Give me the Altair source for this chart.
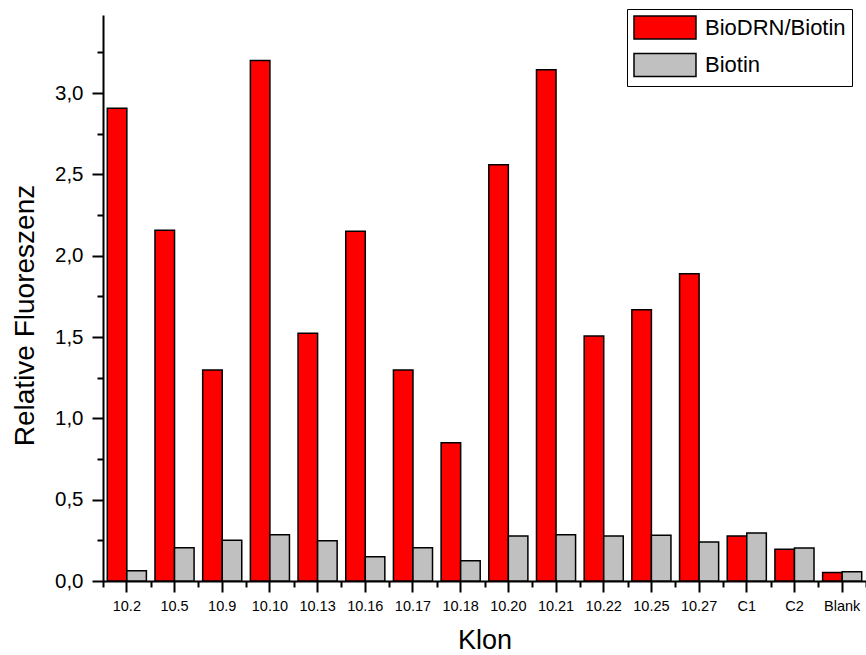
import altair as alt
import pandas as pd

# Clones on the x axis, in display order
klon = ["10.2", "10.5", "10.9", "10.10", "10.13", "10.16", "10.17", "10.18",
        "10.20", "10.21", "10.22", "10.25", "10.27", "C1", "C2", "Blank"]

# Relative fluorescence per series
biodrn_biotin = [2.907, 2.157, 1.297, 3.200, 1.524, 2.151, 1.297, 0.850,
                 2.559, 3.143, 1.506, 1.668, 1.889, 0.277, 0.195, 0.053]
biotin = [0.063, 0.205, 0.250, 0.285, 0.248, 0.149, 0.205, 0.125,
          0.277, 0.285, 0.277, 0.281, 0.240, 0.295, 0.203, 0.057]

series = ["BioDRN/Biotin", "Biotin"]
colors = ["#FF0000", "#C0C0C0"]

major_y = [0.0, 0.5, 1.0, 1.5, 2.0, 2.5, 3.0]
minor_y = [0.25, 0.75, 1.25, 1.75, 2.25, 2.75, 3.25]

rows = []
for k, a, b in zip(klon, biodrn_biotin, biotin):
    rows.append({"Klon": k, "Serie": series[0], "Wert": a})
    rows.append({"Klon": k, "Serie": series[1], "Wert": b})
df = pd.DataFrame(rows)

FONT = "Liberation Sans"

x_scale = alt.Scale(domain=klon, paddingInner=0, paddingOuter=0)
y_scale = alt.Scale(domain=[0, 3.48], nice=False, zero=True)

# Legend swatch: wide bar-shaped rectangle extending right of the symbol slot
swatch = "M-1,-1H4.39V1H-1Z"

# Bars with tick labels at the group centres and major y ticks
bars = alt.Chart(df).mark_bar(stroke="black", strokeWidth=1.5).encode(
    x=alt.X("Klon:N", sort=klon, scale=x_scale,
            axis=alt.Axis(orient="bottom", title="Klon", labelAngle=0,
                          tickSize=11, tickWidth=2, domainWidth=2,
                          domainColor="black", tickColor="black",
                          labelFont=FONT, labelFontSize=14.5, labelColor="black",
                          labelPadding=7, labelFlush=False,
                          titleFont=FONT, titleFontSize=27, titleFontWeight="normal",
                          titleColor="black", titleY=67, titleBaseline="alphabetic")),
    xOffset=alt.XOffset("Serie:N", sort=series,
                        scale=alt.Scale(domain=series, paddingInner=0, paddingOuter=0.22)),
    y=alt.Y("Wert:Q", scale=y_scale,
            axis=alt.Axis(orient="left", title="Relative Fluoreszenz",
                          values=major_y, tickSize=11, tickWidth=2, domainWidth=2,
                          domainColor="black", tickColor="black", grid=False,
                          labelExpr="replace(format(datum.value, '.1f'), '.', ',')",
                          labelFont=FONT, labelFontSize=20.5, labelColor="black",
                          labelPadding=9,
                          titleFont=FONT, titleFontSize=28, titleFontWeight="normal",
                          titleColor="black", titleX=-78, titleY=300,
                          titleBaseline="middle")),
    color=alt.Color("Serie:N", sort=series,
                    scale=alt.Scale(domain=series, range=colors),
                    legend=alt.Legend(title=None, orient="none",
                                      legendX=524, legendY=-6,
                                      symbolType=swatch,
                                      symbolSize=529, symbolStrokeColor="black",
                                      symbolStrokeWidth=1.5, symbolOpacity=1,
                                      labelFont=FONT, labelFontSize=22,
                                      labelColor="black", labelOffset=47,
                                      rowPadding=8.5, padding=6,
                                      fillColor="white", strokeColor="black")),
)

# Invisible layer carrying the minor ticks (band edges on x, quarter steps on y)
minor = alt.Chart(df).mark_tick(opacity=0).encode(
    x=alt.X("Klon:N", sort=klon, scale=x_scale,
            axis=alt.Axis(orient="bottom", title=None, labels=False, domain=False,
                          tickBand="extent", tickSize=6, tickWidth=2,
                          tickColor="black")),
    y=alt.Y("Wert:Q", scale=y_scale,
            axis=alt.Axis(orient="left", title=None, labels=False, domain=False,
                          values=minor_y, tickSize=6, tickWidth=2,
                          tickColor="black", grid=False)),
)

chart = alt.layer(bars, minor).resolve_axis(
    x="independent", y="independent"
).properties(
    width=763,
    height=566,
    autosize=alt.AutoSizeParams(type="none"),
    padding={"left": 103, "top": 15, "right": 0, "bottom": 74},
    background="white",
).configure_view(stroke=None)

chart.save("out.html", embed_options={"renderer": "svg", "actions": False})
